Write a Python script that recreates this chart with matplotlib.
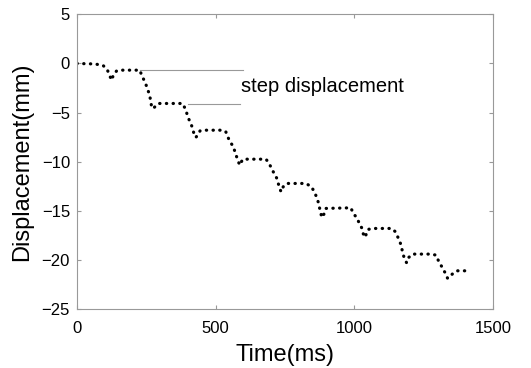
import matplotlib
matplotlib.use("Agg")
import matplotlib.pyplot as plt

plt.rcParams['font.family'] = ['Liberation Sans', 'DejaVu Sans']

# time (ms) and displacement (mm)
time_ms = [0, 65, 94, 109, 117, 125, 131, 143, 161, 227,
           233, 242, 251, 258, 263, 267, 269, 275, 293, 381,
           393, 398, 405, 413, 419, 423, 429, 444, 455, 527,
           537, 549, 564, 570, 576, 582, 588, 597, 612, 682,
           693, 702, 710, 720, 726, 732, 736, 744, 756, 826,
           846, 856, 864, 870, 874, 880, 882, 891, 898, 988,
           996, 1009, 1018, 1027, 1032, 1039, 1050, 1066, 1135, 1149,
           1157, 1165, 1171, 1174, 1180, 1189, 1195, 1211, 1275, 1295,
           1303, 1313, 1321, 1331, 1337, 1343, 1357, 1371, 1417]
disp_mm = [0, -0.05, -0.20, -0.61, -1.19, -1.70, -1.19, -0.75, -0.68, -0.68,
           -1.19, -1.70, -2.31, -2.89, -3.40, -3.91, -4.48, -4.58, -4.07, -4.07,
           -4.75, -5.26, -5.77, -6.28, -6.79, -7.30, -7.53, -6.86, -6.79, -6.79,
           -6.96, -7.80, -8.48, -8.99, -9.50, -10.01, -10.35, -9.77, -9.74, -9.74,
           -10.17, -10.68, -11.13, -11.64, -12.21, -12.72, -13.06, -12.55, -12.21, -12.21,
           -12.55, -13.06, -13.57, -14.08, -14.59, -15.20, -15.67, -15.33, -14.75, -14.69,
           -15.20, -15.71, -16.22, -16.72, -17.29, -17.70, -16.89, -16.79, -16.79, -17.13,
           -17.64, -18.15, -18.66, -19.17, -19.74, -20.28, -19.78, -19.40, -19.40, -19.50,
           -20.01, -20.52, -20.96, -21.43, -21.87, -21.71, -21.36, -21.10, -21.10]

# the two guide lines marking a step
step_x = [[227, 599], [400, 588]]
step_y = [-0.68, -4.14]
step_label = 'step displacement'

xticks = [0, 500, 1000, 1500]
yticks = [5, 0, -5, -10, -15, -20, -25]

fig = plt.figure(figsize=(5.31, 3.68), dpi=100)
ax = fig.add_axes([0.145, 0.160, 0.783, 0.801])

for xs, y in zip(step_x, step_y):
    ax.plot(xs, [y, y], color='0.6', lw=0.8)

ax.plot(time_ms, disp_mm, color='black', lw=2.3,
        linestyle=(0, (0.1, 2.0)), dash_capstyle='round')

ax.text(591, -2.38, step_label, fontsize=14.5, ha='left', va='center')

ax.set_xlim(0, 1500)
ax.set_ylim(-25, 5)
ax.set_xticks(xticks)
ax.set_yticks(yticks)

for sp in ax.spines.values():
    sp.set_color('0.6')
    sp.set_linewidth(0.8)
ax.tick_params(direction='in', length=3, color='0.6', labelsize=12,
               labelcolor='black', top=True, right=True)
ax.tick_params(axis='y', pad=5)
ax.tick_params(axis='x', pad=8.5)

ax.set_xlabel('Time(ms)', fontsize=17, labelpad=6)
ax.set_ylabel('Displacement(mm)', fontsize=17, labelpad=6)

plt.savefig('out.png', dpi=100)
